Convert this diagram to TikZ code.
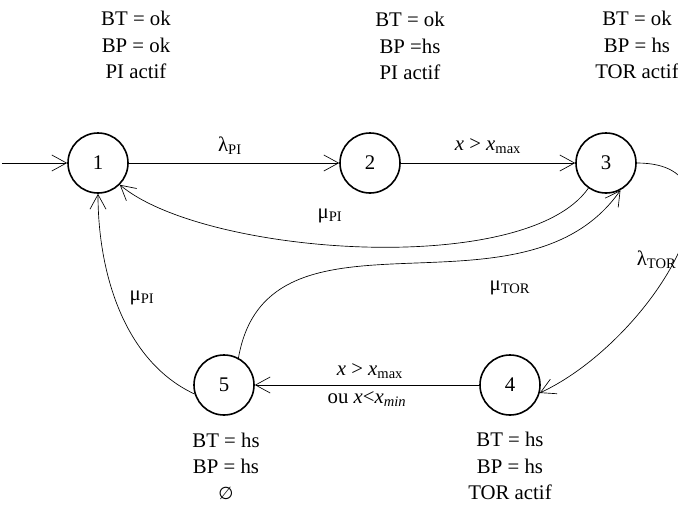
\documentclass[tikz,border=0pt]{standalone}
\usepackage{fontspec}
\setmainfont{Liberation Serif}
\newfontfamily\symfont{DejaVu Sans}
\usetikzlibrary{arrows.meta}
\begin{document}
\begin{tikzpicture}[x=7.5pt,y=7.5pt]
  \tikzstyle{every node}=[font=\fontsize{15.6}{19.6}\selectfont]
  \tikzstyle{state}=[draw,circle,line width=1.2pt,minimum size=45pt,inner sep=0pt]
  \tikzstyle{info}=[align=center]
  \tikzstyle{edge}=[line width=0.5pt,-{Straight Barb[length=11pt,width=12pt,line width=0.5pt]}]
  \useasboundingbox (0,0) rectangle (67.8,-51.4);
  % states
  \node [state] (n1) at (9.8,-16.3) {1};
  \node [state] (n2) at (37.0,-16.3) {2};
  \node [state] (n3) at (60.6,-16.3) {3};
  \node [state] (n4) at (51.0,-38.5) {4};
  \node [state] (n5) at (22.4,-38.5) {5};
  % state descriptions
  \node [info] (i1) at (13.6,-4.5) {BT = ok\\BP = ok\\PI actif};
  \node [info] (i2) at (41.0,-4.6) {BT = ok\\BP =hs\\PI actif};
  \node [info] (i3) at (63.7,-4.5) {BT = ok\\BP = hs\\TOR actif};
  \node [info] (i5) at (22.6,-46.6) {BT = hs\\BP = hs\\{\symfont\fontsize{13}{19.6}\selectfont ∅}};
  \node [info] (i4) at (51.0,-46.6) {BT = hs\\BP = hs\\TOR actif};
  % transitions
  \coordinate (start) at (0.2,-16.3);
  \draw [edge] (start) -- (n1);
  \draw [edge] (n1) -- (n2);
  \node (l12) at (23.0,-14.6) {λ\textsubscript{PI}};
  \draw [edge] (n2) -- (n3);
  \node (l23) at (48.8,-14.6) {\textit{x} > \textit{x}\textsubscript{max}};
  \draw [edge] (n3.235) to[out=-125,in=-40,looseness=0.6] (n1.-45);
  \node (l31) at (33.0,-21.6) {μ\textsubscript{PI}};
  \draw [edge] (n5.62) to[out=80,in=-125,looseness=1.05] (n3.-62);
  \node (l53) at (51.0,-28.8) {μ\textsubscript{TOR}};
  \draw [edge] (n3.east) to[out=0,in=25,looseness=1.25] (n4.-15);
  \node [anchor=east,inner xsep=1pt] (l34) at (67.8,-26.0) {λ\textsubscript{TOR}};
  \draw [edge] (n4) -- (n5);
  \node (l45a) at (37.0,-37.1) {\textit{x} > \textit{x}\textsubscript{max}};
  \node (l45b) at (36.7,-39.9) {ou \textit{x}<\textit{x}\textsubscript{\textit{min}}};
  \draw [edge] (n5.197) to[out=155,in=-90,looseness=0.9] (n1.south);
  \node (l51) at (14.2,-29.8) {μ\textsubscript{PI}};
\end{tikzpicture}
\end{document}
